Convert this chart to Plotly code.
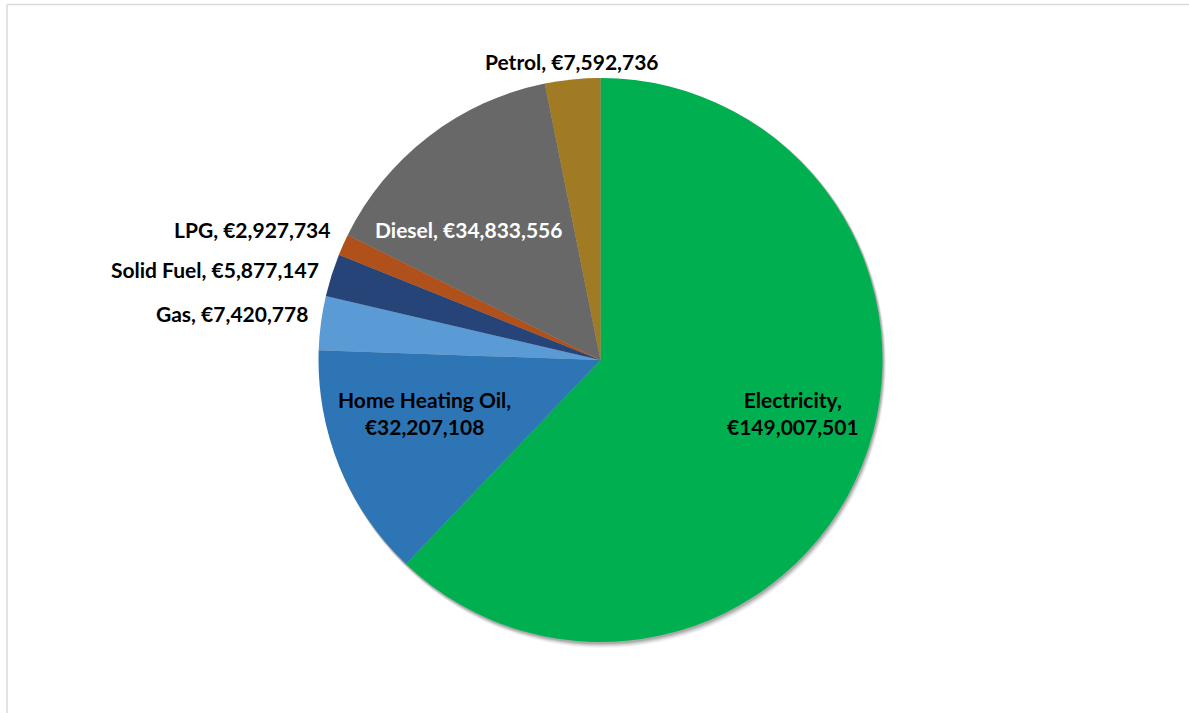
import plotly.graph_objects as go

# Energy spend by fuel type (€)
fuels = ["Electricity", "Home Heating Oil", "Gas", "Solid Fuel", "LPG", "Diesel", "Petrol"]
spend = [149007501, 32207108, 7420778, 5877147, 2927734, 34833556, 7592736]

colors = ["#00b050", "#2e75b6", "#5b9bd5", "#264478", "#b0501a", "#686868", "#a17a24"]
two_line = {"Electricity", "Home Heating Oil"}

W, H = 1189, 713
cx, cy, r = 600.5, 360, 282

# label placement in pixels: (x, y, horizontal anchor, text colour)
label_style = {
    "Electricity": (793, 413, "center", "#000000"),
    "Home Heating Oil": (424, 413, "center", "#000000"),
    "Gas": (310, 313, "right", "#000000"),
    "Solid Fuel": (321, 270, "right", "#000000"),
    "LPG": (332, 229, "right", "#000000"),
    "Diesel": (468, 229, "center", "#ffffff"),
    "Petrol": (572, 62, "center", "#000000"),
}


def px(x):
    return x / W


def py(y):
    return 1 - y / H


fig = go.Figure(
    go.Pie(
        labels=fuels,
        values=spend,
        textinfo="none",
        sort=False,
        direction="clockwise",
        rotation=0,
        marker=dict(colors=colors, line=dict(width=0)),
        domain=dict(x=[px(cx - r), px(cx + r)], y=[py(cy + r), py(cy - r)]),
        hoverinfo="label+value+percent",
        showlegend=False,
    )
)

annotations = []
for f, v in zip(fuels, spend):
    x, y, anchor, col = label_style[f]
    sep = "<br>" if f in two_line else " "
    annotations.append(dict(
        text=f"{f},{sep}€{v:,}",
        x=px(x), y=py(y), xref="paper", yref="paper",
        xanchor=anchor, yanchor="middle", align="center",
        showarrow=False,
        font=dict(family="Lato", size=21, color=col, weight="bold"),
    ))

# soft drop shadow beneath the pie
shapes = []
for off, alpha in [(6, 0.04), (5, 0.05), (4, 0.07), (3, 0.09), (2, 0.12)]:
    shapes.append(dict(
        type="circle", xref="paper", yref="paper", layer="below",
        x0=px(cx - r + off * 0.3), x1=px(cx + r + off * 0.6),
        y0=py(cy + r + off), y1=py(cy - r + off * 0.2),
        fillcolor=f"rgba(0,0,0,{alpha})", line=dict(width=0),
    ))
# chart frame
shapes.append(dict(type="line", xref="paper", yref="paper",
                   x0=px(7), x1=px(W + 10), y0=py(4.5), y1=py(4.5),
                   line=dict(color="#d9d9d9", width=1.5)))
shapes.append(dict(type="line", xref="paper", yref="paper",
                   x0=px(7), x1=px(7), y0=py(4.5), y1=py(H + 10),
                   line=dict(color="#d9d9d9", width=1.5)))

fig.update_layout(
    width=W,
    height=H,
    margin=dict(l=0, r=0, t=0, b=0),
    paper_bgcolor="white",
    plot_bgcolor="white",
    font=dict(family="Lato", size=21, color="#000000"),
    shapes=shapes,
    annotations=annotations,
)

fig.write_html("out.html")
